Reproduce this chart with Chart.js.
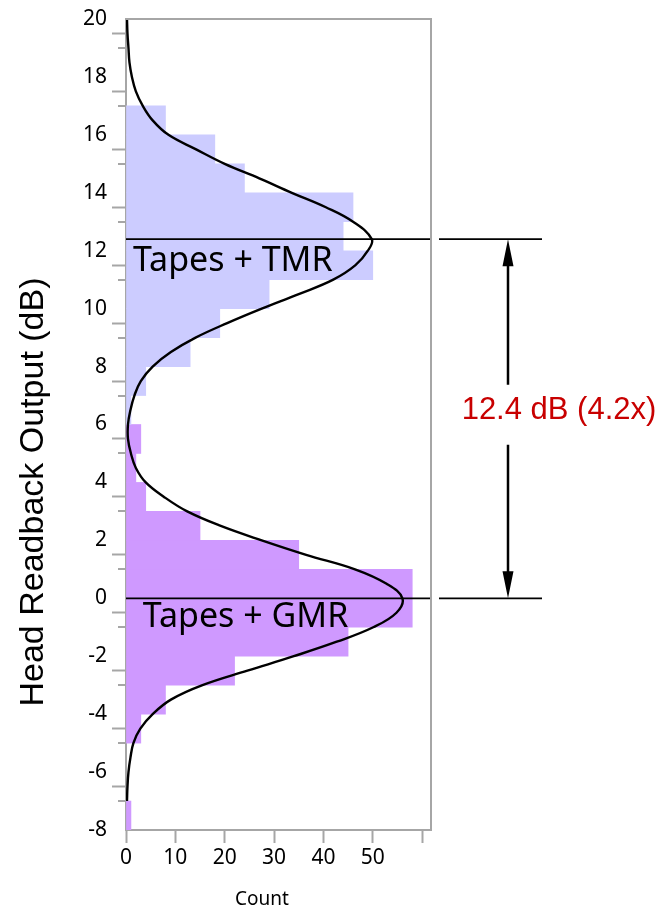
<!DOCTYPE html>
<html lang="en">
<head>
<meta charset="UTF-8">
<title>Head Readback Output</title>
<script src="https://cdn.jsdelivr.net/npm/chart.js"></script>
<style>
  html, body { margin: 0; padding: 0; background: #fff; }
  #wrap { width: 664px; height: 908px; }
</style>
</head>
<body>
<div id="wrap"><canvas id="chart" width="664" height="908"></canvas></div>
<script>
// histogram, 1 dB bins (bin centres) and counts
const tmrBins   = [6.5, 7.5, 8.5, 9.5, 10.5, 11.5, 12.5, 13.5, 14.5, 15.5, 16.5];
const tmrCounts = [1, 4, 13, 19, 29, 50, 44, 46, 24, 18, 8];
const gmrBins   = [-7.5, -4.5, -3.5, -2.5, -1.5, -0.5, 0.5, 1.5, 2.5, 3.5, 4.5, 5.5];
const gmrCounts = [1, 3, 8, 22, 45, 58, 58, 35, 15, 4, 2, 3];

// fitted density curve
const curveDb = [-7, -6.5, -6, -5.5, -5, -4.5, -4, -3.5, -3, -2.5, -2, -1.5, -1, -0.5, 0,
  0.5, 1, 1.5, 2, 2.5, 3, 3.5, 4, 4.5, 5, 5.5, 6, 6.5, 7, 7.5, 8, 8.5, 9, 9.5, 10,
  10.5, 11, 11.5, 12, 12.4, 13, 13.5, 14, 14.5, 15, 15.5, 16, 16.5, 17, 17.5, 18,
  18.5, 19, 19.5, 20];
const curveCount = [0.2, 0.3, 0.5, 0.9, 1.5, 2.9, 5.4, 9.1, 15.5, 24.6, 34, 42.7, 50.1, 54.8, 56,
  52.8, 46.4, 36.5, 27.5, 19.2, 12.4, 7.7, 4.0, 2.0, 1.0, 0.4, 0.4, 0.9, 1.7, 3.0, 5.4, 9.1, 14.1, 20.5, 27.5,
  35, 42, 46.5, 49, 49.8, 46, 40.5, 33.6, 27, 20, 14.2, 8.6, 5.4, 3.4, 2.0, 1.2,
  0.7, 0.5, 0.3, 0.2];

// group means and the difference between them
const meanLines = [12.4, 0];
const diffLabel = '12.4 dB (4.2x)';
const groupLabels = ['Tapes + TMR', 'Tapes + GMR'];
const groupLabelAt = [[1.4, 11.3], [3.4, -1.0]];   // [count, dB] of label baseline start

const yTickValues = [-8, -7, -6, -5, -4, -3, -2, -1, 0, 1, 2, 3, 4, 5, 6, 7, 8, 9, 10,
  11, 12, 13, 14, 15, 16, 17, 18, 19, 20];
const xTickValues = [0, 10, 20, 30, 40, 50, 60];
const xTickLabels = ['0', '10', '20', '30', '40', '50', ''];

const GREY = '#a6a6a6';
const TICK_FONT = { family: '"Noto Sans", "Open Sans", sans-serif', size: 21 };
const isMinor = v => Math.abs(v) % 2 === 1;

const overlay = {
  id: 'overlay',
  afterDatasetsDraw(chart) {
    const { ctx, chartArea: a, scales: { x, y } } = chart;
    ctx.save();

    // top and right frame
    ctx.strokeStyle = GREY;
    ctx.lineWidth = 2;
    ctx.beginPath();
    ctx.moveTo(a.left, a.top);
    ctx.lineTo(a.right, a.top);
    ctx.lineTo(a.right, a.bottom);
    // short minor ticks on the dB axis
    yTickValues.filter(isMinor).forEach(v => {
      const py = Math.round(y.getPixelForValue(v));
      ctx.moveTo(a.left - 8, py); ctx.lineTo(a.left, py);
    });
    ctx.stroke();

    // mean lines, inside and outside the plot
    ctx.strokeStyle = '#000';
    ctx.lineWidth = 1.8;
    meanLines.forEach(v => {
      const py = y.getPixelForValue(v);
      ctx.beginPath();
      ctx.moveTo(a.left, py); ctx.lineTo(a.right - 1, py);
      ctx.moveTo(a.right + 8, py); ctx.lineTo(a.right + 111, py);
      ctx.stroke();
    });

    // double arrow with the difference label
    const ax = a.right + 77;
    const y1 = y.getPixelForValue(meanLines[0]);
    const y2 = y.getPixelForValue(meanLines[1]);
    const mid = (y1 + y2) / 2;
    ctx.lineWidth = 2.5;
    ctx.beginPath();
    ctx.moveTo(ax, y1 + 10); ctx.lineTo(ax, mid - 34);
    ctx.moveTo(ax, mid + 26); ctx.lineTo(ax, y2 - 10);
    ctx.stroke();
    ctx.fillStyle = '#000';
    ctx.beginPath();
    ctx.moveTo(ax, y1); ctx.lineTo(ax - 5.5, y1 + 27); ctx.lineTo(ax + 5.5, y1 + 27); ctx.closePath();
    ctx.moveTo(ax, y2); ctx.lineTo(ax - 5.5, y2 - 27); ctx.lineTo(ax + 5.5, y2 - 27); ctx.closePath();
    ctx.fill();

    ctx.fillStyle = '#c80000';
    ctx.font = '31px "Liberation Sans", Arial, sans-serif';
    ctx.textAlign = 'center';
    ctx.textBaseline = 'alphabetic';
    ctx.fillText(diffLabel, a.right + 128, mid);

    // group labels
    ctx.fillStyle = '#000';
    ctx.font = '34px "Noto Sans", "Open Sans", sans-serif';
    ctx.textAlign = 'left';
    groupLabels.forEach((t, i) => {
      ctx.fillText(t, x.getPixelForValue(groupLabelAt[i][0]), y.getPixelForValue(groupLabelAt[i][1]));
    });

    // axis titles
    ctx.font = '19px "Noto Sans", "Open Sans", sans-serif';
    ctx.textAlign = 'center';
    ctx.fillText('Count', a.left + 136, a.bottom + 75);

    ctx.translate(a.left - 83, a.top + 473);
    ctx.rotate(-Math.PI / 2);
    ctx.font = '34px "Liberation Sans", Arial, sans-serif';
    ctx.fillText('Head Readback Output (dB)', 0, 0);
    ctx.restore();
  }
};

new Chart(document.getElementById('chart'), {
  type: 'bar',
  data: {
    datasets: [
      {
        type: 'line',
        label: 'Fit',
        data: curveDb.map((v, i) => ({ x: curveCount[i], y: v })),
        borderColor: '#000',
        borderWidth: 2.4,
        pointRadius: 0,
        tension: 0.4,
        fill: false,
        order: 0
      },
      {
        label: 'Tapes + TMR',
        data: tmrBins.map((v, i) => ({ x: tmrCounts[i], y: v })),
        backgroundColor: '#ccccff',
        order: 1
      },
      {
        label: 'Tapes + GMR',
        data: gmrBins.map((v, i) => ({ x: gmrCounts[i], y: v })),
        backgroundColor: '#cf99ff',
        order: 1
      }
    ]
  },
  options: {
    indexAxis: 'y',
    responsive: false,
    devicePixelRatio: 1,
    animation: false,
    grouped: false,
    barPercentage: 1,
    categoryPercentage: 1,
    borderWidth: 0,
    layout: { padding: { top: 19, right: 233, bottom: 0, left: 0 } },
    plugins: { legend: { display: false }, tooltip: { enabled: false } },
    scales: {
      x: {
        type: 'linear',
        position: 'bottom',
        min: 0,
        max: 61.8,
        offset: false,
        afterBuildTicks: s => { s.ticks = xTickValues.map(v => ({ value: v })); },
        afterFit: s => { s.height = 78; },
        grid: { drawOnChartArea: false, tickLength: 13, tickWidth: 2, tickColor: GREY },
        border: { color: GREY, width: 2 },
        ticks: {
          autoSkip: false, maxRotation: 0, padding: 2, color: '#000', font: TICK_FONT,
          callback: (v, i) => xTickLabels[i]
        }
      },
      y: {
        type: 'linear',
        position: 'left',
        min: -8,
        max: 20,
        offset: false,
        afterBuildTicks: s => { s.ticks = yTickValues.map(v => ({ value: v })); },
        afterFit: s => { s.width = 126; },
        grid: {
          drawOnChartArea: false, tickLength: 14, tickWidth: 2,
          tickColor: c => (c.tick && isMinor(c.tick.value)) ? 'rgba(0,0,0,0)' : GREY
        },
        border: { color: GREY, width: 2 },
        ticks: {
          autoSkip: false, padding: 5, color: '#000', font: TICK_FONT,
          callback: v => (isMinor(v) ? '' : String(v))
        }
      }
    }
  },
  plugins: [overlay]
});
</script>
</body>
</html>
